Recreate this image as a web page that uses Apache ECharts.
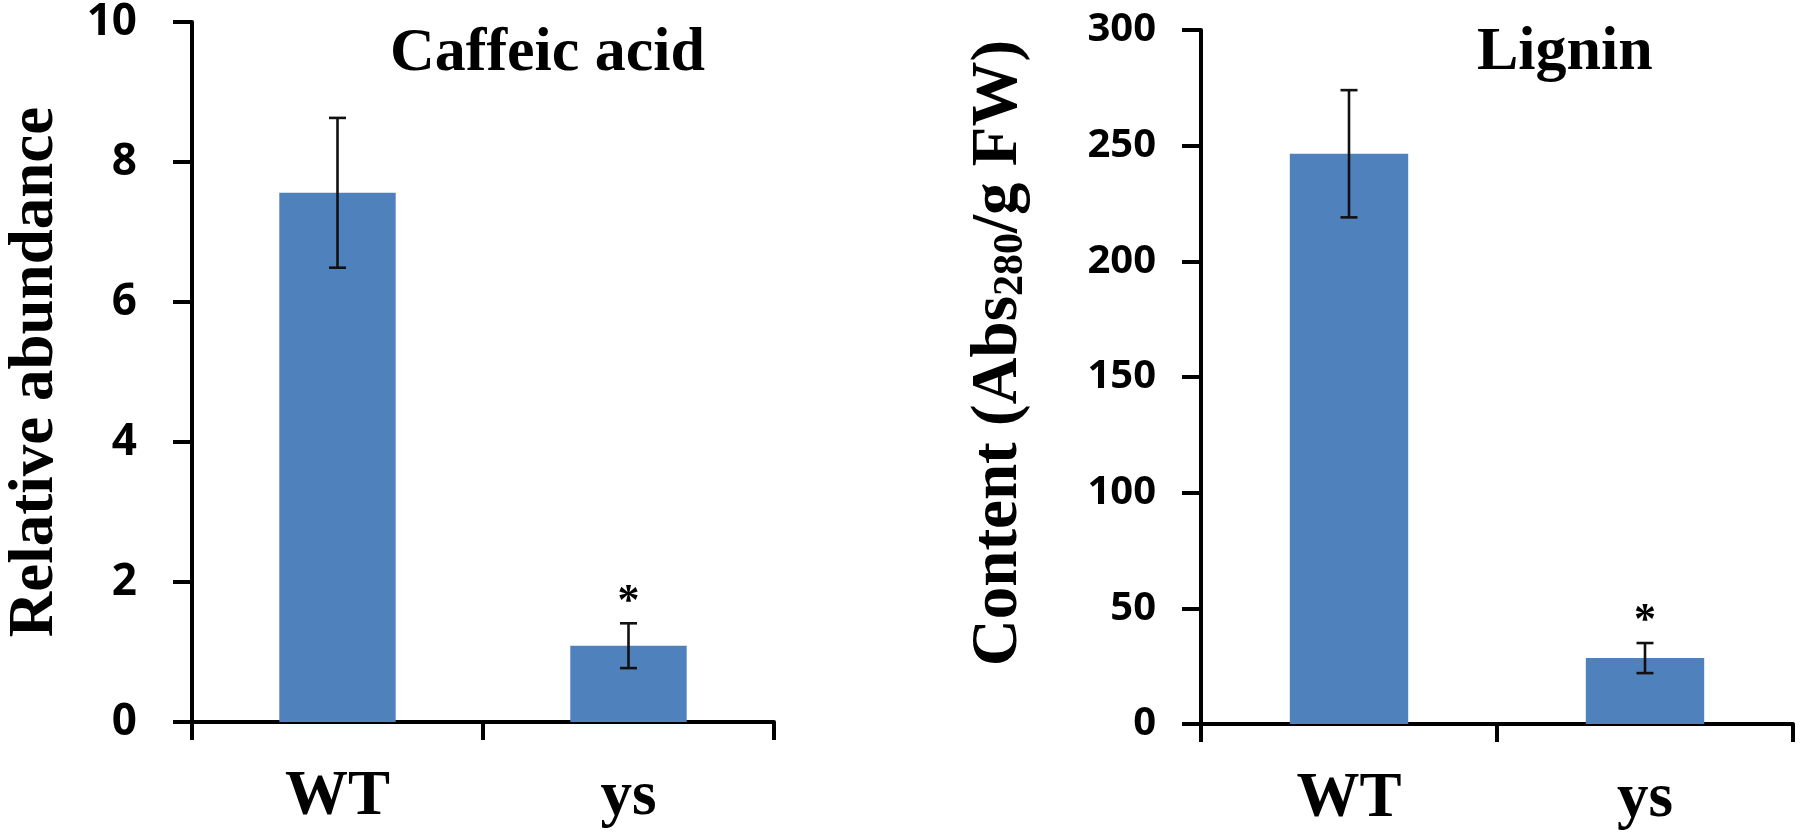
<!DOCTYPE html>
<html>
<head>
<meta charset="utf-8">
<script src="https://cdn.jsdelivr.net/npm/echarts@6/dist/echarts.min.js"></script>
<style>
html,body{margin:0;padding:0;background:#fff;}
#c{width:1800px;height:839px;}
</style>
</head>
<body>
<div id="c"></div>
<script>
const categories = ['WT', 'ys'];
const caffeicMean = [7.56, 1.09];
const caffeicErr = [1.07, 0.32];
const ligninMean = [246.5, 28.5];
const ligninErr = [27.5, 6.5];
const significance = ['', '*'];
const caffeicAxis = { min: 0, max: 10, interval: 2 };
const ligninAxis = { min: 0, max: 300, interval: 50 };

const serif = 'Liberation Serif, Times New Roman, serif';
const sans = 'Open Sans, DejaVu Sans, sans-serif';
const barColor = '#4F81BD';

function errData(mean, err) {
  return categories.map((c, i) => [i, mean[i], err[i]]);
}

function errRender(params, api) {
  const x = api.value(0), m = api.value(1), e = api.value(2);
  const top = api.coord([x, m + e]);
  const bot = api.coord([x, m - e]);
  const cap = 8.5;
  const st = { stroke: '#111', lineWidth: 2.6 };
  const children = [
    { type: 'line', shape: { x1: top[0], y1: top[1], x2: bot[0], y2: bot[1] }, style: st },
    { type: 'line', shape: { x1: top[0] - cap, y1: top[1], x2: top[0] + cap, y2: top[1] }, style: st },
    { type: 'line', shape: { x1: bot[0] - cap, y1: bot[1], x2: bot[0] + cap, y2: bot[1] }, style: st }
  ];
  const s = significance[params.dataIndex];
  if (s) {
    children.push({
      type: 'text',
      x: top[0], y: top[1] - 21,
      style: { text: s, fill: '#000', font: 'bold 44px ' + serif, align: 'center', verticalAlign: 'middle' }
    });
  }
  return { type: 'group', children };
}

function xAxisCfg(idx) {
  return {
    type: 'category', gridIndex: idx, data: categories,
    axisLine: { show: true, lineStyle: { color: '#000', width: 4 } },
    axisTick: { show: true, length: 18, alignWithLabel: false, lineStyle: { color: '#000', width: 4 } },
    axisLabel: { color: '#000', fontFamily: serif, fontWeight: 'bold', fontSize: 63, margin: 44 },
    splitLine: { show: false }
  };
}

function yAxisCfg(idx, ax, labelSize, margin) {
  return {
    type: 'value', gridIndex: idx, min: ax.min, max: ax.max, interval: ax.interval,
    axisLine: { show: true, lineStyle: { color: '#000', width: 4 } },
    axisTick: { show: true, length: 19, lineStyle: { color: '#000', width: 4 } },
    axisLabel: { color: '#000', fontFamily: sans, fontWeight: 'bold', fontSize: labelSize, margin: margin },
    splitLine: { show: false },
    nameLocation: 'middle', nameRotate: 90
  };
}

const y0 = yAxisCfg(0, caffeicAxis, 44, 55);
y0.name = 'Relative abundance';
y0.nameGap = 125;
y0.nameTextStyle = { color: '#000', fontFamily: serif, fontWeight: 'bold', fontSize: 63 };

const y1 = yAxisCfg(1, ligninAxis, 40, 45);
y1.name = '{m|Content (Abs}{s|280}{m|/g FW)}';
y1.nameGap = 169;
y1.nameTextStyle = {
  padding: [0, 0, 0, 48],
  rich: {
    m: { color: '#000', fontFamily: serif, fontWeight: 'bold', fontSize: 65, lineHeight: 65, verticalAlign: 'top' },
    s: { color: '#000', fontFamily: serif, fontWeight: 'bold', fontSize: 42, lineHeight: 40, padding: [34, 0, 0, 0], verticalAlign: 'bottom' }
  }
};

const chart = echarts.init(document.getElementById('c'), null, { renderer: 'canvas' });
chart.setOption({
  backgroundColor: '#fff',
  animation: false,
  title: [
    { text: 'Caffeic acid', left: 385, top: 18, textStyle: { color: '#000', fontFamily: serif, fontWeight: 'bold', fontSize: 62 } },
    { text: 'Lignin', left: 1472, top: 17, textStyle: { color: '#000', fontFamily: serif, fontWeight: 'bold', fontSize: 62 } }
  ],
  grid: [
    { left: 192, right: 1026, top: 22, bottom: 117 },
    { left: 1201, right: 7, top: 30, bottom: 115 }
  ],
  xAxis: [xAxisCfg(0), xAxisCfg(1)],
  yAxis: [y0, y1],
  series: [
    { type: 'bar', xAxisIndex: 0, yAxisIndex: 0, data: caffeicMean, barWidth: '40%', itemStyle: { color: barColor } },
    { type: 'custom', xAxisIndex: 0, yAxisIndex: 0, data: errData(caffeicMean, caffeicErr), renderItem: errRender, z: 10 },
    { type: 'bar', xAxisIndex: 1, yAxisIndex: 1, data: ligninMean, barWidth: '40%', itemStyle: { color: barColor } },
    { type: 'custom', xAxisIndex: 1, yAxisIndex: 1, data: errData(ligninMean, ligninErr), renderItem: errRender, z: 10 }
  ]
});
</script>
</body>
</html>
